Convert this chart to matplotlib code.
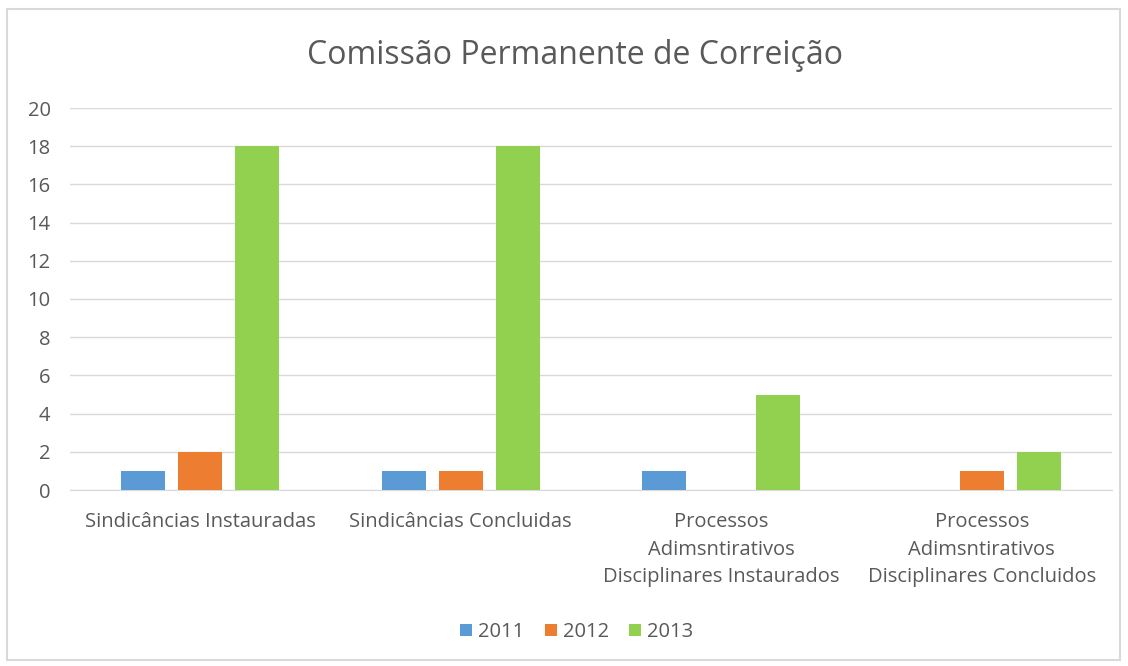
import numpy as np
import matplotlib.pyplot as plt
from matplotlib.patches import Rectangle

categorias = ["Sindicâncias Instauradas", "Sindicâncias Concluidas",
              "Processos\nAdimsntirativos\nDisciplinares Instaurados",
              "Processos\nAdimsntirativos\nDisciplinares Concluidos"]
anos = ["2011", "2012", "2013"]
v2011 = [1, 1, 1, 0]
v2012 = [2, 1, 0, 1]
v2013 = [18, 18, 5, 2]
cores = ["#5b9bd5", "#ed7d31", "#92d050"]

plt.rcParams['font.family'] = ['Open Sans', 'DejaVu Sans']

fig = plt.figure(figsize=(11.28, 6.66), dpi=100)
fig.patches.append(Rectangle((7/1128, 6/666), 1113/1128, 651/666, transform=fig.transFigure,
                             fill=False, edgecolor="#d9d9d9", linewidth=1.5))
ax = fig.add_axes([70/1128, 1-490/666, 1042/1128, 382/666])

x = np.arange(len(categorias))
larg = 0.169
passo = 0.219
for i, (vals, ano) in enumerate(zip([v2011, v2012, v2013], anos)):
    ax.bar(x + (i - 1) * passo, vals, larg, color=cores[i], label=ano, zorder=3)

ax.set_xlim(-0.5, 3.5)
ax.set_ylim(0, 20)
ax.set_yticks(range(0, 21, 2))
ax.grid(axis="y", color="#d9d9d9", linewidth=1, zorder=0)
ax.set_xticks(x)
ax.set_xticklabels(categorias, fontsize=14.5, color="#595959", linespacing=1.5)
ax.tick_params(axis="y", labelsize=14.5, labelcolor="#595959", length=0, pad=14)
ax.tick_params(axis="x", length=0, pad=16)
for s in ["top", "right", "left"]:
    ax.spines[s].set_visible(False)
ax.spines["bottom"].set_color("#d9d9d9")

fig.text(575/1128, 1-55/666, "Comissão Permanente de Correição", fontsize=23,
         color="#595959", ha="center", va="center")
fig.legend(loc="center", bbox_to_anchor=(577/1128, 1-632/666), ncol=3, frameon=False,
           fontsize=14.5, handlelength=0.6, handleheight=0.6, columnspacing=1.0,
           handletextpad=0.3, labelcolor="#595959")

fig.savefig("out.png", dpi=100)
